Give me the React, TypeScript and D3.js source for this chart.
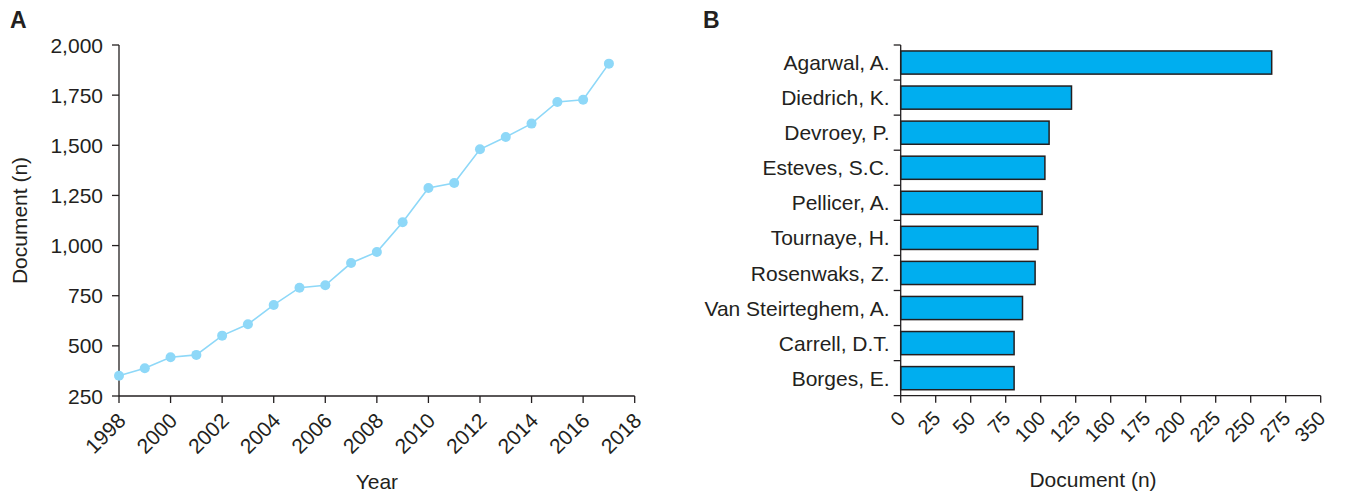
import React from "react";
import * as d3 from "d3";

const years = [1998, 1999, 2000, 2001, 2002, 2003, 2004, 2005, 2006, 2007, 2008, 2009, 2010, 2011, 2012, 2013, 2014, 2015, 2016, 2017];
const documents = [351, 388, 443, 455, 551, 608, 704, 790, 802, 913, 968, 1116, 1287, 1312, 1480, 1541, 1608, 1716, 1727, 1907];
const yearTicks = [1998, 2000, 2002, 2004, 2006, 2008, 2010, 2012, 2014, 2016, 2018];
const docTicks = [250, 500, 750, 1000, 1250, 1500, 1750, 2000];

const authors = ["Agarwal, A.", "Diedrich, K.", "Devroey, P.", "Esteves, S.C.", "Pellicer, A.", "Tournaye, H.", "Rosenwaks, Z.", "Van Steirteghem, A.", "Carrell, D.T.", "Borges, E."];
const authorDocs = [265, 122, 106, 103, 101, 98, 96, 87, 81, 81];
const authorTickValues = [0, 25, 50, 75, 100, 125, 150, 175, 200, 225, 250, 275, 300];
const authorTickLabels = ["0", "25", "50", "75", "100", "125", "160", "175", "200", "225", "250", "275", "350"];

const INK = "#231f20";
const FONT = "'Liberation Sans', Arial, Helvetica, sans-serif";
const FS = 21;

export default function App() {
  // Panel A
  const xA = d3.scaleLinear().domain([1998, 2018]).range([119, 634.7]);
  const yA = d3.scaleLinear().domain([250, 2000]).range([396, 45]);
  const line = d3
    .line<number>()
    .x((_, i) => xA(years[i]))
    .y((d) => yA(d));
  const fmt = d3.format(",");

  // Panel B
  const xB = d3.scaleLinear().domain([0, 300]).range([900.7, 1320.7]);
  const yB = d3.scaleBand<string>().domain(authors).range([45, 395.7]).paddingInner(0.34).paddingOuter(0.17);
  const bTop = 45;
  const bBottom = 395.7;
  const step = yB.step();

  return (
    <svg width={1345} height={493} style={{ position: "absolute", left: 0, top: 0, background: "#fff" }} fontFamily={FONT}>
      <rect x={0} y={0} width={1345} height={493} fill="#fff" />
      {/* Panel labels */}
      <text x={10} y={28} fontSize={23} fontWeight="bold" fill={INK}>A</text>
      <text x={703} y={28} fontSize={23} fontWeight="bold" fill={INK}>B</text>

      {/* Panel A axes */}
      <g stroke={INK} strokeWidth={1.3} fill="none">
        <line x1={xA.range()[0]} x2={xA.range()[0]} y1={yA(2000)} y2={yA(250)} />
        <line x1={xA.range()[0]} x2={xA(2018)} y1={yA(250)} y2={yA(250)} />
        {docTicks.map((t) => (
          <line key={"yt" + t} x1={xA.range()[0] - 7} x2={xA.range()[0]} y1={yA(t)} y2={yA(t)} />
        ))}
        {yearTicks.map((t) => (
          <line key={"xt" + t} x1={xA(t)} x2={xA(t)} y1={yA(250)} y2={yA(250) + 7} />
        ))}
      </g>
      {docTicks.map((t) => (
        <text key={"yl" + t} x={xA.range()[0] - 16} y={yA(t)} dy="0.36em" textAnchor="end" fontSize={FS} fill={INK}>
          {fmt(t)}
        </text>
      ))}
      {yearTicks.map((t) => (
        <text
          key={"xl" + t}
          transform={`translate(${xA(t) + 8},${yA(250) + 26}) rotate(-45)`}
          textAnchor="end"
          fontSize={FS}
          fill={INK}
        >
          {t}
        </text>
      ))}
      <text transform={`translate(27,${(yA(2000) + yA(250)) / 2}) rotate(-90)`} textAnchor="middle" fontSize={FS} fill={INK}>
        Document (n)
      </text>
      <text x={(xA(1998) + xA(2018)) / 2} y={489} textAnchor="middle" fontSize={FS} fill={INK}>
        Year
      </text>

      {/* Panel A series */}
      <path d={line(documents) || ""} fill="none" stroke="#8ed8f8" strokeWidth={1.6} />
      {documents.map((d, i) => (
        <circle key={"pt" + i} cx={xA(years[i])} cy={yA(d)} r={5} fill="#8ed8f8" />
      ))}

      {/* Panel B bars */}
      {authors.map((a, i) => (
        <rect
          key={"bar" + a}
          x={xB(0)}
          y={yB(a)}
          width={xB(authorDocs[i]) - xB(0)}
          height={yB.bandwidth()}
          fill="#00aeef"
          stroke={INK}
          strokeWidth={1.5}
        />
      ))}

      {/* Panel B axes */}
      <g stroke={INK} strokeWidth={1.3} fill="none">
        <line x1={xB(0)} x2={xB(0)} y1={bTop} y2={bBottom} />
        <line x1={xB(0) - 7} x2={xB(300)} y1={bBottom} y2={bBottom} />
        {authors.map((a, i) => (
          <line key={"bt" + i} x1={xB(0) - 7} x2={xB(0)} y1={bTop + i * step} y2={bTop + i * step} />
        ))}
        {authorTickValues.map((t) => (
          <line key={"bxt" + t} x1={xB(t)} x2={xB(t)} y1={bBottom} y2={bBottom + 7} />
        ))}
      </g>
      {authors.map((a) => (
        <text key={"al" + a} x={xB(0) - 11} y={(yB(a) || 0) + yB.bandwidth() / 2} dy="0.36em" textAnchor="end" fontSize={FS} fill={INK}>
          {a}
        </text>
      ))}
      {authorTickValues.map((t, i) => (
        <text
          key={"bxl" + t}
          transform={`translate(${xB(t) + 6},${bBottom + 24}) rotate(-45)`}
          textAnchor="end"
          fontSize={20}
          fill={INK}
        >
          {authorTickLabels[i]}
        </text>
      ))}
      <text x={1093} y={487} textAnchor="middle" fontSize={FS} fill={INK}>
        Document (n)
      </text>
    </svg>
  );
}
